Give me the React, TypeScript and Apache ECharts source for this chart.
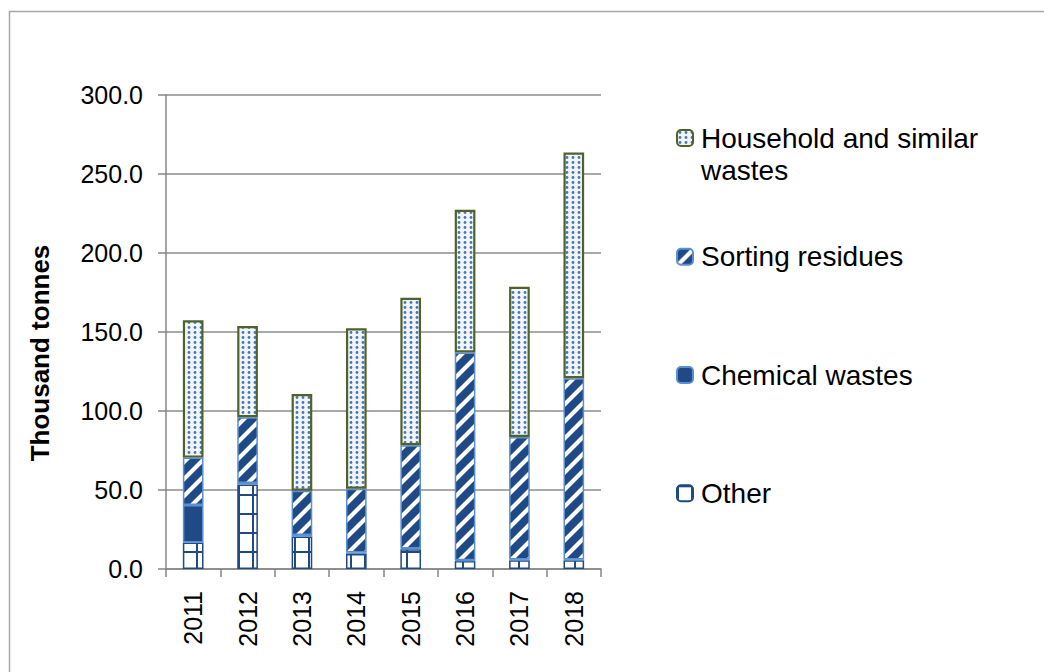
import React, { useEffect, useRef } from "react";
import * as echarts from "echarts";

const years = ["2011", "2012", "2013", "2014", "2015", "2016", "2017", "2018"];
const otherValues = [16.8, 53.5, 20.5, 9.5, 12.5, 5.0, 5.5, 5.5];
const chemicalValues = [23.7, 1.0, 1.0, 1.0, 0.5, 0.5, 0.5, 0.5];
const sortingValues = [30.0, 41.6, 28.0, 40.3, 65.3, 131.5, 77.5, 114.7];
const householdValues = [86.9, 57.7, 61.3, 101.6, 93.4, 90.3, 95.1, 142.9];
const seriesNames = ["Other", "Chemical wastes", "Sorting residues", "Household and similar wastes"];
const legendOrder = ["Household and similar wastes", "Sorting residues", "Chemical wastes", "Other"];
const yMin = 0;
const yMax = 300;
const yInterval = 50;
const yTitle = "Thousand tonnes";

const FONT = '"Liberation Sans", Arial, sans-serif';
const DARK = "#1f4a85";

function makeCanvas(w: number, h: number, draw: (c: CanvasRenderingContext2D) => void) {
  const cv = document.createElement("canvas");
  cv.width = w;
  cv.height = h;
  const ctx = cv.getContext("2d")!;
  draw(ctx);
  return cv;
}

export default function App() {
  const ref = useRef<HTMLDivElement>(null);
  useEffect(() => {
    if (!ref.current) return;
    const chart = echarts.init(ref.current, null, { renderer: "svg" });

    const dots = makeCanvas(6, 5, (c) => {
      c.fillStyle = "#f1f5fb";
      c.fillRect(0, 0, 6, 5);
      c.fillStyle = "#4676b4";
      c.beginPath();
      c.arc(3, 2.5, 1.4, 0, Math.PI * 2);
      c.fill();
    });
    const stripes = makeCanvas(17, 17, (c) => {
      c.fillStyle = DARK;
      c.fillRect(0, 0, 17, 17);
      c.strokeStyle = "#ffffff";
      c.lineWidth = 4.2;
      c.beginPath();
      c.moveTo(-2, 19);
      c.lineTo(19, -2);
      c.moveTo(-6, 6);
      c.lineTo(6, -6);
      c.moveTo(11, 23);
      c.lineTo(23, 11);
      c.stroke();
    });
    const grid = makeCanvas(14, 19, (c) => {
      c.fillStyle = "#ffffff";
      c.fillRect(0, 0, 14, 19);
      c.fillStyle = DARK;
      c.fillRect(0, 0, 2, 19);
      c.fillRect(0, 0, 14, 2);
    });

    const styles: Record<string, any> = {
      Other: { color: { image: grid, repeat: "repeat" }, borderColor: DARK, borderWidth: 1.5 },
      "Chemical wastes": { color: DARK, borderColor: "#5b8fd4", borderWidth: 1.5 },
      "Sorting residues": { color: { image: stripes, repeat: "repeat" }, borderColor: "#5b8fd4", borderWidth: 1.5 },
      "Household and similar wastes": { color: { image: dots, repeat: "repeat" }, borderColor: "#4f6228", borderWidth: 2.2 },
    };
    const dataMap: Record<string, number[]> = {
      Other: otherValues,
      "Chemical wastes": chemicalValues,
      "Sorting residues": sortingValues,
      "Household and similar wastes": householdValues,
    };

    const legendTops = [90, 240.7, 359, 477.3];
    const legends = legendOrder.map((name, i) => ({
      data: [name],
      left: 676,
      top: legendTops[i],
      padding: 0,
      itemWidth: 16,
      itemHeight: 16,
      selectedMode: false,
      formatter: (n: string) => (n === "Household and similar wastes" ? " \nHousehold and similar\nwastes" : n),
      textStyle: {
        fontFamily: FONT,
        fontSize: 28,
        color: "#000",
        lineHeight: 32,
        padding: [0, 0, 0, 3],
      },
    }));

    chart.setOption({
      animation: false,
      backgroundColor: "#ffffff",
      grid: { left: 166, right: 443, top: 95, bottom: 103, containLabel: false },
      legend: legends,
      xAxis: {
        type: "category",
        data: years,
        axisLine: { lineStyle: { color: "#868686", width: 1.5 } },
        axisTick: { show: true, length: 8, lineStyle: { color: "#868686", width: 1.5 } },
        axisLabel: { rotate: 90, margin: 22, fontFamily: FONT, fontSize: 25, color: "#000" },
      },
      yAxis: {
        type: "value",
        min: yMin,
        max: yMax,
        interval: yInterval,
        axisLine: { show: true, lineStyle: { color: "#868686", width: 1.5 } },
        axisTick: { show: true, length: 8, lineStyle: { color: "#868686", width: 1.5 } },
        splitLine: { lineStyle: { color: "#8c8c8c", width: 1.5 } },
        axisLabel: { margin: 23, fontFamily: FONT, fontSize: 25, color: "#000", formatter: (v: number) => v.toFixed(1) },
      },
      series: seriesNames.map((name) => ({
        name,
        type: "bar",
        stack: "total",
        barWidth: "38%",
        data: dataMap[name],
        itemStyle: styles[name],
        emphasis: { disabled: true },
      })),
      graphic: [
        {
          type: "rect",
          shape: { x: 9.5, y: 11.5, width: 1200, height: 900 },
          style: { fill: "none", stroke: "#a6a6a6", lineWidth: 1.5 },
          silent: true,
        },
        {
          type: "text",
          x: 40,
          y: 353,
          rotation: Math.PI / 2,
          style: {
            text: yTitle,
            font: `bold 26px ${FONT}`,
            fill: "#000",
            align: "center",
            verticalAlign: "middle",
          },
        },
      ],
    });
    return () => chart.dispose();
  }, []);
  return <div ref={ref} style={{ position: "fixed", left: 0, top: 0, width: 1044, height: 672 }} />;
}
